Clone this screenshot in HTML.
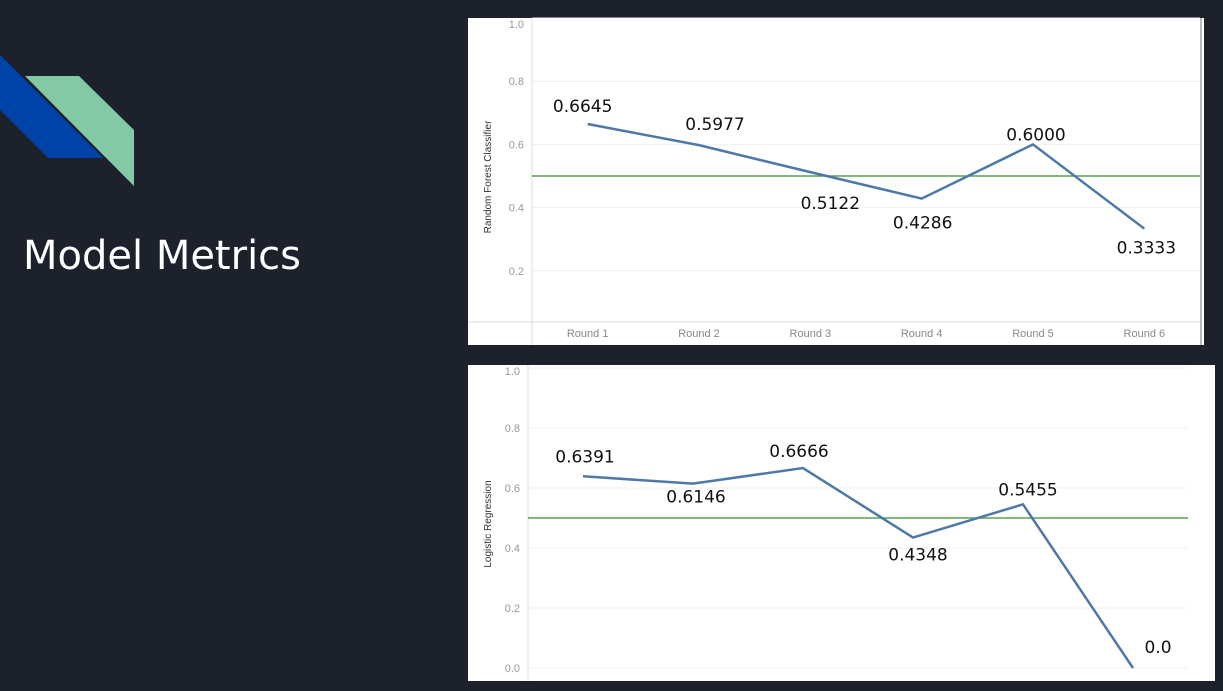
<!DOCTYPE html>
<html><head><meta charset="utf-8"><style>
body{margin:0;width:1223px;height:691px;background:#1c212c;overflow:hidden;font-family:"Liberation Sans",sans-serif;position:relative}
.title{position:absolute;left:23px;top:233px;font-size:40px;color:#fff;font-family:"DejaVu Sans",sans-serif;font-weight:normal}
svg{position:absolute;left:0;top:0}
</style></head><body>
<svg width="1223" height="691">
<polygon points="0,55 103,158 48,158 0,110" fill="#0043a8"/>
<polygon points="25,76 79,76 134,130 134,186" fill="#84c9a6"/>
</svg>
<div class="title">Model Metrics</div>
<svg id="c1" width="1223" height="691"></svg>
<svg id="c2" width="1223" height="691"></svg>
<script>
const categories=["Round 1","Round 2","Round 3","Round 4","Round 5","Round 6"];
const rfValues=[0.6645,0.5977,0.5122,0.4286,0.6000,0.3333];
const rfLabels=["0.6645","0.5977","0.5122","0.4286","0.6000","0.3333"];
const lrValues=[0.6391,0.6146,0.6666,0.4348,0.5455,0.0];
const lrLabels=["0.6391","0.6146","0.6666","0.4348","0.5455","0.0"];
const rfTicks=[0.2,0.4,0.6,0.8,1.0];
const lrTicks=[0.0,0.2,0.4,0.6,0.8,1.0];
const threshold=0.5;
const NS="http://www.w3.org/2000/svg";
function mk(p,t,a,name){const e=document.createElementNS(NS,t);for(const k in a)e.setAttribute(k,a[k]);


p.appendChild(e);return e;}
function draw(svg,cfg){
 const {px,py,pw,ph,ax,x1,y0,ys,values,labels,ticks,showCats,axisY,labOff,labDx,title,titleY}=cfg;
 const y=v=>y0-ys*v; const bw=(x1-ax)/categories.length; const x=i=>ax+bw*(i+0.5);
 mk(svg,'rect',{x:px,y:py,width:pw,height:ph,fill:'#fff'},'chart-panel');
 ticks.forEach(t=>{mk(svg,'line',{x1:ax,x2:x1,y1:y(t),y2:y(t),stroke:'#f0f0f0'},'gridline');
  const tx=mk(svg,'text',{x:ax-8,y:Math.max(y(t)+4,py+10),'text-anchor':'end','font-size':11,fill:'#999'},'y-tick-label');tx.textContent=t.toFixed(1);});
 mk(svg,'line',{x1:ax,x2:ax,y1:py,y2:py+ph,stroke:'#ddd'},'y-axis');
 const yt=mk(svg,'text',{transform:`translate(${px+23},${titleY}) rotate(-90)`,'text-anchor':'middle','font-size':10,fill:'#333'},'y-axis-title');yt.textContent=title;
 if(showCats){mk(svg,'line',{x1:px,x2:x1,y1:axisY,y2:axisY,stroke:'#ddd'},'x-axis');
  categories.forEach((c,i)=>{const t=mk(svg,'text',{x:x(i),y:axisY+15,'text-anchor':'middle','font-size':11,fill:'#888'},'x-tick-label');t.textContent=c;});}
 mk(svg,'line',{x1:ax,x2:x1,y1:y(threshold),y2:y(threshold),stroke:'#59a14f','stroke-width':1.5},'threshold-line');
 mk(svg,'polyline',{points:values.map((v,i)=>x(i)+','+y(v)).join(' '),fill:'none',stroke:'#4e79a7','stroke-width':2.5},'series-line');
 values.forEach((v,i)=>{const t=mk(svg,'text',{x:x(i)+labDx[i],y:y(v)+labOff[i],'text-anchor':'middle','font-size':17,'font-family':'DejaVu Sans, sans-serif',fill:'#111'},'point-label');t.textContent=labels[i];});
}
draw(document.getElementById('c1'),{px:468,py:18,pw:736,ph:327,ax:532,x1:1200,y0:334,ys:316,values:rfValues,labels:rfLabels,ticks:rfTicks,showCats:true,axisY:322,labOff:[-12,-15,37,30,-4,25],labDx:[-5,16,20,1,3,2],title:"Random Forest Classifier",titleY:177});
mk(document.getElementById('c1'),'line',{x1:1201,x2:1201,y1:18,y2:345,stroke:'#bbb','stroke-width':2},'panel-edge');
draw(document.getElementById('c2'),{px:468,py:365,pw:747,ph:316,ax:528,x1:1188,y0:668,ys:300,values:lrValues,labels:lrLabels,ticks:lrTicks,showCats:false,axisY:680,labOff:[-14,19,-11,23,-9,-15],labDx:[2,3,-4,5,5,25],title:"Logistic Regression",titleY:524});
</script>
</body></html>
